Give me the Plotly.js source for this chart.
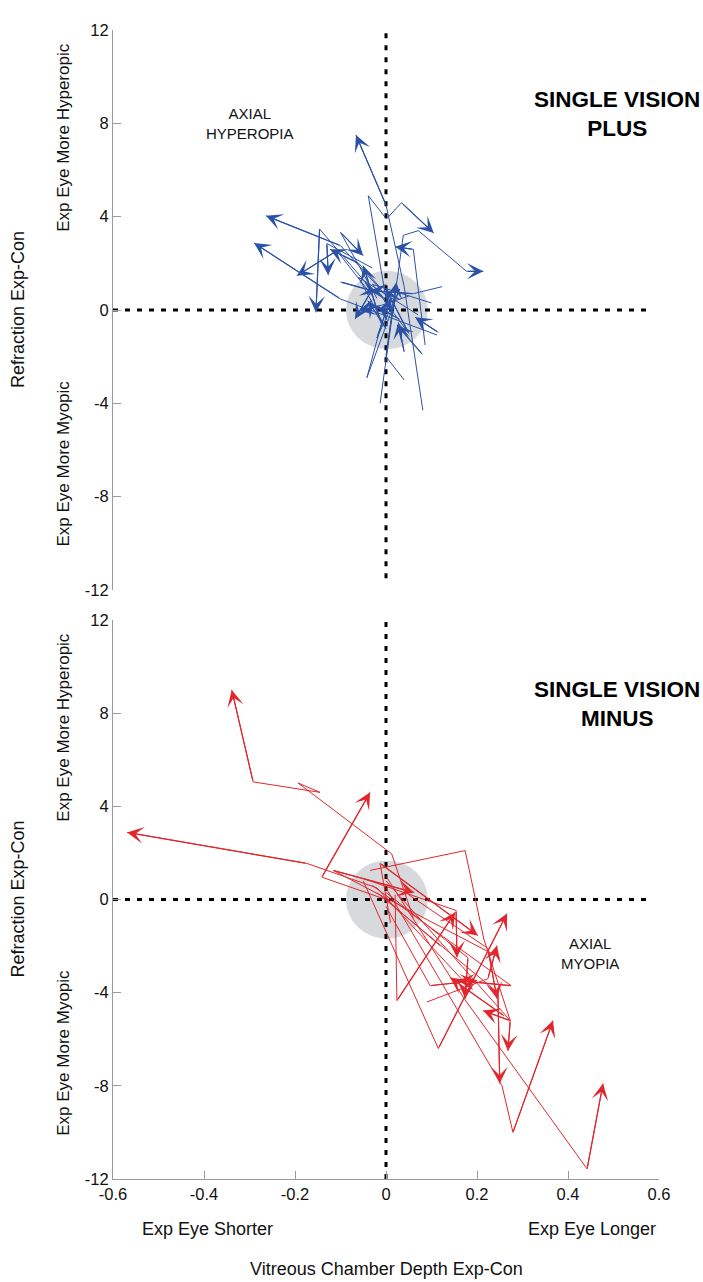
<!DOCTYPE html>
<html>
<head>
<meta charset="utf-8">
<script src="https://cdn.plot.ly/plotly-3.0.1.min.js"></script>
<style>
  html, body { margin: 0; padding: 0; background: #fff; }
  #chart { width: 703px; height: 1282px; }
</style>
</head>
<body>
<div id="chart"></div>
<script>
// one inner array per eye, the arrow goes on the last point
const plusX = [
  [0.081, 0.04, 0.0, -0.066],
  [0.0, -0.039, 0.001, 0.034, 0.105],
  [-0.013, 0.038, 0.071, 0.177, 0.214],
  [0.086, 0.06, 0.02],
  [0.02, -0.1, -0.264],
  [0.112, -0.1, -0.29],
  [-0.03, -0.108, -0.196],
  [-0.05, -0.146, -0.154],
  [-0.03, -0.13, -0.127],
  [-0.01, -0.06, -0.123],
  [-0.02, -0.1, -0.05],
  [-0.042, -0.01, -0.05],
  [0.123, 0.06, -0.035],
  [0.04, 0.0, 0.023],
  [0.04, 0.027],
  [0.115, 0.064],
  [-0.03, -0.068],
  [0.05, -0.01, -0.06],
  [-0.1, -0.02],
  [0.03, -0.018],
  [0.08, 0.024],
  [-0.042, 0.03, -0.02, 0.01],
  [0.07, -0.06, 0.0, -0.04],
  [0.1, -0.03, 0.05, 0.0]
];
const plusY = [
  [-4.3, 1.0, 4.5, 7.5],
  [0.5, 4.9, 3.9, 4.6, 3.3],
  [-4.0, 3.2, 3.4, 1.66, 1.66],
  [-1.5, 2.6, 2.71],
  [0.2, 2.76, 4.04],
  [-1.07, 0.47, 2.87],
  [0.6, 2.54, 1.47],
  [1.3, 3.47, -0.1],
  [1.8, 2.85, 1.5],
  [0.9, 2.0, 2.6],
  [0.5, 3.33, 2.33],
  [-2.9, -0.6, 1.9],
  [1.0, 0.7, 0.83],
  [-3.0, -2.0, 1.19],
  [-1.8, -0.53],
  [-0.96, -0.31],
  [0.9, -0.39],
  [0.6, 0.2, -0.03],
  [1.2, 0.77],
  [-0.4, 0.13],
  [-1.9, -0.64],
  [-2.9, 0.9, -1.2, 0.5],
  [-0.2, 1.4, -0.8, 0.4],
  [0.3, 1.1, -1.0, 0.9]
];

const minusX = [
  [0.06, 0.0125, -0.193, -0.145, -0.292, -0.339],
  [0.12, 0.0, -0.141, -0.035],
  [0.17, -0.02, -0.174, -0.569],
  [0.25, -0.116, 0.062],
  [-0.035, 0.174, 0.215, 0.273, 0.268],
  [0.01, -0.013, 0.202],
  [0.09, 0.224, 0.244],
  [-0.05, 0.154, 0.156],
  [0.26, 0.141],
  [-0.03, 0.275, 0.158],
  [0.0, 0.097, 0.2],
  [0.0, 0.18, 0.174],
  [0.05, 0.224, 0.244],
  [0.0, 0.273, 0.213],
  [0.0, 0.255, 0.279, 0.367],
  [0.0, 0.17, 0.442, 0.477],
  [-0.02, 0.246, 0.25],
  [0.02, 0.024, 0.152],
  [-0.05, 0.115, 0.266]
];
const minusY = [
  [-0.8, 1.96, 5.0, 4.6, 5.05, 9.0],
  [-2.0, 0.0, 0.96, 4.6],
  [-3.5, 0.5, 1.55, 2.88],
  [-2.5, 1.25, 0.3],
  [1.25, 2.1, -1.7, -5.2, -6.5],
  [-1.0, 1.55, -1.55],
  [-4.4, -3.4, -1.98],
  [0.9, -0.47, -2.49],
  [-5.0, -3.35],
  [0.6, -3.7, -3.48],
  [-0.3, -3.7, -3.48],
  [0.3, -2.5, -4.26],
  [0.2, -2.1, -4.26],
  [0.8, -5.2, -4.77],
  [0.5, -8.0, -10.0, -5.2],
  [1.0, -4.2, -11.57, -7.9],
  [0.3, -4.0, -7.9],
  [0.2, -4.34, -0.55],
  [0.8, -6.4, -0.6]
];

const yTicks = [-12, -8, -4, 0, 4, 8, 12];
const yTickText = ['-12', '-8', '-4', '0', '4', '8', '12'];
const xTicks = [-0.6, -0.4, -0.2, 0, 0.2, 0.4, 0.6];
const xTickText = ['-0.6', '-0.4', '-0.2', '0', '0.2', '0.4', '0.6'];

const FONT = 'Liberation Sans, Arial, Helvetica, sans-serif';
const BLUE = '#2c52a6';
const RED = '#e1262d';
const AXIS_GREY = '#9a9a9a';

const traces = [];
const annotations = [];

function addPaths(xs, ys, color, xref, yref) {
  xs.forEach(function(px, i) {
    const py = ys[i];
    traces.push({
      x: px, y: py,
      xaxis: xref, yaxis: yref,
      type: 'scatter', mode: 'lines',
      line: {color: color, width: 1},
      hoverinfo: 'skip'
    });
    const n = px.length;
    annotations.push({
      x: px[n - 1], y: py[n - 1],
      ax: px[n - 2], ay: py[n - 2],
      xref: xref, yref: yref, axref: xref, ayref: yref,
      text: '', showarrow: true,
      arrowhead: 3, arrowsize: 2.3, arrowwidth: 1.2,
      arrowcolor: color, standoff: 0
    });
  });
}
addPaths(plusX, plusY, BLUE, 'x', 'y');
addPaths(minusX, minusY, RED, 'x2', 'y2');

// side labels of each panel
function panelText(yref) {
  annotations.push(
    {xref: 'paper', yref: yref, x: 0, y: 0, xshift: -107, textangle: -90,
     text: 'Refraction Exp-Con', showarrow: false, font: {size: 18}},
    {xref: 'paper', yref: yref, x: 0, y: 7.4, xshift: -61, textangle: -90,
     text: 'Exp Eye More Hyperopic', showarrow: false, font: {size: 17}},
    {xref: 'paper', yref: yref, x: 0, y: -6.6, xshift: -61, textangle: -90,
     text: 'Exp Eye More Myopic', showarrow: false, font: {size: 17}}
  );
}
panelText('y');
panelText('y2');

annotations.push(
  {xref: 'paper', yref: 'y', x: 1, xanchor: 'right', xshift: 43, y: 8.4, showarrow: false,
   align: 'center', text: '<b>SINGLE VISION<br>PLUS</b>', font: {size: 22.5, color: '#000'}},
  {xref: 'paper', yref: 'y2', x: 1, xanchor: 'right', xshift: 43, y: 8.4, showarrow: false,
   align: 'center', text: '<b>SINGLE VISION<br>MINUS</b>', font: {size: 22.5, color: '#000'}},
  {xref: 'x', yref: 'y', x: -0.3, y: 8.0, showarrow: false,
   text: 'AXIAL<br>HYPEROPIA', font: {size: 15}},
  {xref: 'x2', yref: 'y2', x: 0.448, y: -2.3, showarrow: false,
   text: 'AXIAL<br>MYOPIA', font: {size: 15}},
  {xref: 'x2', yref: 'paper', x: -0.393, y: 0, yshift: -50, yanchor: 'middle',
   text: 'Exp Eye Shorter', showarrow: false, font: {size: 18}},
  {xref: 'x2', yref: 'paper', x: 0.453, y: 0, yshift: -50, yanchor: 'middle',
   text: 'Exp Eye Longer', showarrow: false, font: {size: 18}},
  {xref: 'x2', yref: 'paper', x: 0, y: 0, yshift: -90, yanchor: 'middle',
   text: 'Vitreous Chamber Depth Exp-Con', showarrow: false, font: {size: 18}}
);

function panelShapes(xref, yref, yBottom) {
  return [
    {type: 'circle', xref: xref, yref: yref, x0: -0.088, x1: 0.092, y0: -1.68, y1: 1.68,
     fillcolor: '#d6dadc', line: {width: 0}, layer: 'below'},
    {type: 'line', xref: xref, yref: yref, x0: 0, x1: 0, y0: yBottom, y1: 12,
     line: {color: '#000', width: 3, dash: '5px,7px'}, layer: 'below'},
    {type: 'line', xref: xref, yref: yref, x0: -0.6, x1: 0.58, y0: 0, y1: 0,
     line: {color: '#000', width: 3, dash: '5px,7px'}, layer: 'below'}
  ];
}

const yAxisBase = {
  range: [-12, 12], tickvals: yTicks, ticktext: yTickText,
  ticks: 'inside', ticklen: 8, tickcolor: AXIS_GREY, tickwidth: 1,
  showline: true, linecolor: AXIS_GREY, linewidth: 1,
  showgrid: false, zeroline: false, fixedrange: true,
  tickfont: {size: 16.5, color: '#111'}
};

const layout = {
  width: 703, height: 1282,
  margin: {l: 113, r: 44, t: 30, b: 103},
  paper_bgcolor: '#fff', plot_bgcolor: '#fff',
  showlegend: false,
  font: {family: FONT, size: 15, color: '#111'},
  xaxis: {domain: [0, 1], range: [-0.6, 0.6], anchor: 'y', visible: false, fixedrange: true},
  yaxis: Object.assign({domain: [0.5126, 1], anchor: 'x'}, yAxisBase),
  xaxis2: {
    domain: [0, 1], range: [-0.6, 0.6], anchor: 'y2',
    tickvals: xTicks, ticktext: xTickText,
    ticks: 'inside', ticklen: 8, tickcolor: AXIS_GREY, tickwidth: 1,
    showline: true, linecolor: AXIS_GREY, linewidth: 1,
    showgrid: false, zeroline: false, fixedrange: true,
    tickfont: {size: 16.5, color: '#111'}
  },
  yaxis2: Object.assign({domain: [0, 0.4865], anchor: 'x2'}, yAxisBase),
  shapes: panelShapes('x', 'y', -11.5).concat(panelShapes('x2', 'y2', -12)),
  annotations: annotations
};

Plotly.newPlot('chart', traces, layout, {displayModeBar: false, staticPlot: true});
</script>
</body>
</html>
